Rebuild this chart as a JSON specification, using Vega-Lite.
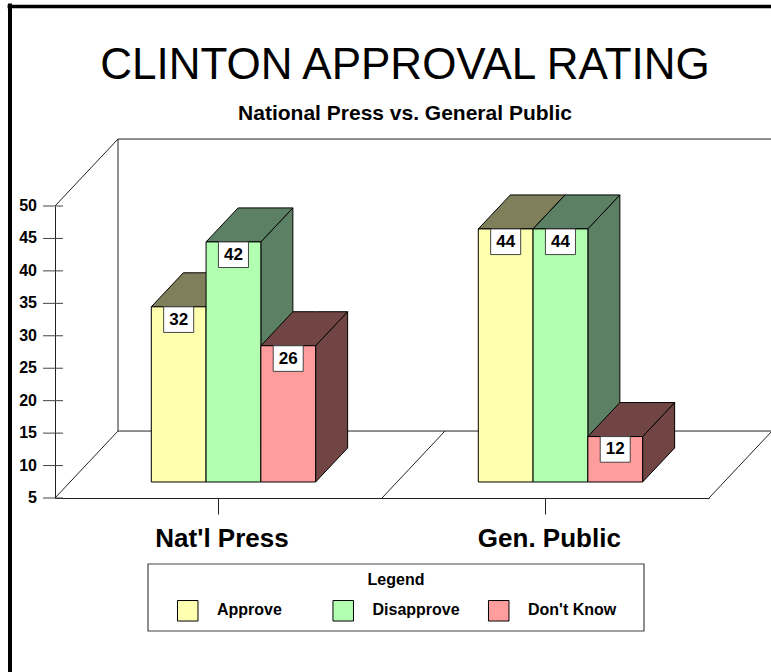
{
  "$schema": "https://vega.github.io/schema/vega-lite/v6.json",
  "width": 654,
  "height": 292,
  "autosize": {"type": "none"},
  "padding": {"left": 55, "top": 206, "right": 62, "bottom": 174},
  "background": "white",
  "view": {"stroke": null},
  "title": {
    "text": "CLINTON APPROVAL RATING",
    "subtitle": "National Press vs. General Public",
    "anchor": "middle",
    "frame": "group",
    "dx": 23,
    "offset": -122,
    "font": "Liberation Sans",
    "fontSize": 44,
    "fontWeight": "normal",
    "color": "black",
    "subtitleFont": "Liberation Sans",
    "subtitleFontSize": 21,
    "subtitleFontWeight": "bold",
    "subtitleColor": "black",
    "subtitlePadding": 15
  },
  "datasets": {
    "ratings": [
      {"group": "Nat'l Press", "response": "Approve", "value": 32},
      {"group": "Nat'l Press", "response": "Disapprove", "value": 42},
      {"group": "Nat'l Press", "response": "Don't Know", "value": 26},
      {"group": "Gen. Public", "response": "Approve", "value": 44},
      {"group": "Gen. Public", "response": "Disapprove", "value": 44},
      {"group": "Gen. Public", "response": "Don't Know", "value": 12}
    ],
    "responses": [
      {"response": "Approve"},
      {"response": "Disapprove"},
      {"response": "Don't Know"}
    ],
    "floorEdges": [{"edge": 0}, {"edge": 1}, {"edge": 2}],
    "scaleTicks": [
      {"tick": 5}, {"tick": 10}, {"tick": 15}, {"tick": 20}, {"tick": 25},
      {"tick": 30}, {"tick": 35}, {"tick": 40}, {"tick": 45}, {"tick": 50}
    ],
    "one": [{"id": 1}]
  },
  "layer": [
    {
      "description": "Value-axis ticks crossing the axis line; this layer also carries both axes",
      "data": {"name": "scaleTicks"},
      "mark": {"type": "rule", "color": "#444"},
      "encoding": {
        "x": {"datum": -0.0367, "type": "quantitative", "scale": {"domain": [0, 2]}, "axis": {
          "values": [0.497, 1.498],
          "labelExpr": "datum.value < 1 ? \"Nat'l Press\" : 'Gen. Public'",
          "title": null,
          "grid": false,
          "domainColor": "#222",
          "tickColor": "#222",
          "tickSize": 16,
          "labelFont": "Liberation Sans",
          "labelFontSize": 26,
          "labelFontWeight": "bold",
          "labelColor": "black",
          "labelPadding": 11,
          "labelOffset": 4,
          "labelFlush": false,
          "labelOverlap": false
        }},
        "x2": {"datum": 0.0245},
        "y": {"field": "tick", "type": "quantitative", "scale": {"domain": [5, 50], "nice": false, "zero": false}, "axis": {
          "title": null,
          "grid": false,
          "domainColor": "#222",
          "ticks": false,
          "labels": false
        }}
      }
    },
    {
      "description": "Value-axis numbers",
      "data": {"name": "scaleTicks"},
      "mark": {"type": "text", "font": "Liberation Sans", "fontSize": 16, "fontWeight": "bold", "color": "black", "align": "right", "baseline": "middle", "dx": -18},
      "encoding": {
        "x": {"datum": 0, "type": "quantitative"},
        "y": {"field": "tick", "type": "quantitative"},
        "text": {"field": "tick", "type": "quantitative"}
      }
    },
    {
      "description": "Outer page frame, top edge",
      "data": {"name": "one"},
      "mark": {"type": "rule", "color": "black", "strokeWidth": 3.5},
      "encoding": {
        "x": {"datum": -0.145, "type": "quantitative"},
        "x2": {"datum": 2.19},
        "y": {"datum": 80.74, "type": "quantitative"}
      }
    },
    {
      "description": "Outer page frame, left edge",
      "data": {"name": "one"},
      "mark": {"type": "rule", "color": "black", "strokeWidth": 4},
      "encoding": {
        "x": {"datum": -0.1376, "type": "quantitative"},
        "y": {"datum": 81.2, "type": "quantitative"},
        "y2": {"datum": -22}
      }
    },
    {
      "description": "Back wall top edge",
      "data": {"name": "one"},
      "mark": {"type": "rule", "color": "#222"},
      "encoding": {
        "x": {"datum": 0.1927, "type": "quantitative"},
        "x2": {"datum": 2.19},
        "y": {"datum": 60.32, "type": "quantitative"}
      }
    },
    {
      "description": "Back wall floor edge",
      "data": {"name": "one"},
      "mark": {"type": "rule", "color": "#222"},
      "encoding": {
        "x": {"datum": 0.1927, "type": "quantitative"},
        "x2": {"datum": 2.19},
        "y": {"datum": 15.32, "type": "quantitative"}
      }
    },
    {
      "description": "Back wall left edge",
      "data": {"name": "one"},
      "mark": {"type": "rule", "color": "#222"},
      "encoding": {
        "x": {"datum": 0.1927, "type": "quantitative"},
        "y": {"datum": 60.32, "type": "quantitative"},
        "y2": {"datum": 15.32}
      }
    },
    {
      "description": "Side wall upper diagonal",
      "data": {"name": "one"},
      "mark": {"type": "rule", "color": "#222"},
      "encoding": {
        "x": {"datum": 0, "type": "quantitative"},
        "x2": {"datum": 0.1927},
        "y": {"datum": 50, "type": "quantitative"},
        "y2": {"datum": 60.32}
      }
    },
    {
      "description": "Floor diagonals, one at each category boundary",
      "data": {"name": "floorEdges"},
      "transform": [{"calculate": "datum.edge + 0.1927", "as": "edgeBack"}],
      "mark": {"type": "rule", "color": "#222"},
      "encoding": {
        "x": {"field": "edge", "type": "quantitative"},
        "x2": {"field": "edgeBack"},
        "y": {"datum": 5, "type": "quantitative"},
        "y2": {"datum": 15.32}
      }
    },
    {
      "description": "Right-hand faces of the columns",
      "data": {"name": "ratings"},
      "transform": [
        {"calculate": "(datum.group === \"Nat'l Press\" ? 0 : 1) + 0.2945 + indexof(['Approve', 'Disapprove', \"Don't Know\"], datum.response) * 0.1675 + 0.1675", "as": "right"},
        {"calculate": "[0, 1]", "as": "t"},
        {"flatten": ["t"]},
        {"calculate": "datum.right + datum.t * 0.0979", "as": "px"},
        {"calculate": "datum.value + 2.466 + datum.t * 5.24", "as": "upper"},
        {"calculate": "7.466 + datum.t * 5.24", "as": "lower"},
        {"calculate": "datum.group + datum.response", "as": "bar"}
      ],
      "mark": {"type": "area", "orient": "vertical", "stroke": "black", "strokeWidth": 1, "interpolate": "linear"},
      "encoding": {
        "x": {"field": "px", "type": "quantitative"},
        "y": {"field": "upper", "type": "quantitative", "stack": null},
        "y2": {"field": "lower"},
        "detail": {"field": "bar"},
        "fill": {
          "field": "response",
          "type": "nominal",
          "legend": null,
          "scale": {"domain": ["Approve", "Disapprove", "Don't Know"], "range": ["#7f7f5c", "#5c8063", "#724545"]}
        }
      }
    },
    {
      "description": "Top faces of the columns",
      "data": {"name": "ratings"},
      "transform": [
        {"calculate": "(datum.group === \"Nat'l Press\" ? 0 : 1) + 0.2945 + indexof(['Approve', 'Disapprove', \"Don't Know\"], datum.response) * 0.1675", "as": "left"},
        {"calculate": "[0, 1, 2, 3]", "as": "t"},
        {"flatten": ["t"]},
        {"calculate": "datum.left + [0, 0.0979, 0.1675, 0.2654][datum.t]", "as": "px"},
        {"calculate": "datum.value + 2.466 + [0, 5.24, 5.24, 5.24][datum.t]", "as": "upper"},
        {"calculate": "datum.value + 2.466 + [0, 0, 0, 5.24][datum.t]", "as": "lower"},
        {"calculate": "datum.group + datum.response", "as": "bar"}
      ],
      "mark": {"type": "area", "orient": "vertical", "stroke": "black", "strokeWidth": 1, "interpolate": "linear"},
      "encoding": {
        "x": {"field": "px", "type": "quantitative"},
        "y": {"field": "upper", "type": "quantitative", "stack": null},
        "y2": {"field": "lower"},
        "detail": {"field": "bar"},
        "fill": {
          "field": "response",
          "type": "nominal",
          "legend": null,
          "scale": {"domain": ["Approve", "Disapprove", "Don't Know"], "range": ["#7f7f5c", "#5c8063", "#724545"]}
        }
      }
    },
    {
      "description": "Legend panel outline",
      "data": {"name": "one"},
      "mark": {"type": "rect", "fill": "white", "stroke": "#444", "strokeWidth": 1.2},
      "encoding": {
        "x": {"datum": 0.2844, "type": "quantitative"},
        "x2": {"datum": 1.8012},
        "y": {"datum": -5.17, "type": "quantitative"},
        "y2": {"datum": -15.5}
      }
    },
    {
      "description": "Legend heading",
      "data": {"name": "one"},
      "mark": {"type": "text", "font": "Liberation Sans", "fontSize": 16, "fontWeight": "bold", "color": "black", "align": "center", "baseline": "middle"},
      "encoding": {
        "x": {"datum": 1.0428, "type": "quantitative"},
        "y": {"datum": -7.64, "type": "quantitative"},
        "text": {"value": "Legend"}
      }
    },
    {
      "description": "Legend swatches",
      "data": {"name": "responses"},
      "transform": [
        {"calculate": "0.3746 + indexof(['Approve', 'Disapprove', \"Don't Know\"], datum.response) * 0.4755", "as": "swatchLeft"},
        {"calculate": "datum.swatchLeft + 0.0627", "as": "swatchRight"}
      ],
      "mark": {"type": "rect", "stroke": "black", "strokeWidth": 1},
      "encoding": {
        "x": {"field": "swatchLeft", "type": "quantitative"},
        "x2": {"field": "swatchRight"},
        "y": {"datum": -10.8, "type": "quantitative"},
        "y2": {"datum": -13.96},
        "color": {
          "field": "response",
          "type": "nominal",
          "legend": null,
          "scale": {"domain": ["Approve", "Disapprove", "Don't Know"], "range": ["#ffffb0", "#b2ffb2", "#ff9c9c"]}
        }
      }
    },
    {
      "description": "Legend labels",
      "data": {"name": "responses"},
      "transform": [
        {"calculate": "0.4954 + indexof(['Approve', 'Disapprove', \"Don't Know\"], datum.response) * 0.4755", "as": "labelLeft"}
      ],
      "mark": {"type": "text", "font": "Liberation Sans", "fontSize": 16, "fontWeight": "bold", "color": "black", "align": "left", "baseline": "middle"},
      "encoding": {
        "x": {"field": "labelLeft", "type": "quantitative"},
        "y": {"datum": -12.33, "type": "quantitative"},
        "text": {"field": "response", "type": "nominal"}
      }
    },
    {
      "description": "Front faces of the columns",
      "data": {"name": "ratings"},
      "transform": [
        {"calculate": "(datum.group === \"Nat'l Press\" ? 0 : 1) + 0.2945 + indexof(['Approve', 'Disapprove', \"Don't Know\"], datum.response) * 0.1675", "as": "left"},
        {"calculate": "datum.left + 0.1675", "as": "right"},
        {"calculate": "datum.value + 2.466", "as": "upper"},
        {"calculate": "7.466", "as": "lower"}
      ],
      "mark": {"type": "rect", "stroke": "black", "strokeWidth": 1},
      "encoding": {
        "x": {"field": "left", "type": "quantitative"},
        "x2": {"field": "right"},
        "y": {"field": "upper", "type": "quantitative"},
        "y2": {"field": "lower"},
        "color": {
          "field": "response",
          "type": "nominal",
          "legend": null,
          "scale": {"domain": ["Approve", "Disapprove", "Don't Know"], "range": ["#ffffb0", "#b2ffb2", "#ff9c9c"]}
        }
      }
    },
    {
      "description": "White boxes behind the value labels",
      "data": {"name": "ratings"},
      "transform": [
        {"calculate": "(datum.group === \"Nat'l Press\" ? 0 : 1) + 0.2945 + indexof(['Approve', 'Disapprove', \"Don't Know\"], datum.response) * 0.1675 + 0.0837", "as": "center"},
        {"calculate": "datum.center - 0.0459", "as": "boxLeft"},
        {"calculate": "datum.center + 0.0459", "as": "boxRight"},
        {"calculate": "datum.value + 2.466", "as": "upper"},
        {"calculate": "datum.upper - 3.95", "as": "boxBottom"}
      ],
      "mark": {"type": "rect", "fill": "white", "stroke": "#444", "strokeWidth": 1},
      "encoding": {
        "x": {"field": "boxLeft", "type": "quantitative"},
        "x2": {"field": "boxRight"},
        "y": {"field": "upper", "type": "quantitative"},
        "y2": {"field": "boxBottom"}
      }
    },
    {
      "description": "Value labels",
      "data": {"name": "ratings"},
      "transform": [
        {"calculate": "(datum.group === \"Nat'l Press\" ? 0 : 1) + 0.2945 + indexof(['Approve', 'Disapprove', \"Don't Know\"], datum.response) * 0.1675 + 0.0837", "as": "center"},
        {"calculate": "datum.value + 2.466 - 1.98", "as": "labelY"}
      ],
      "mark": {"type": "text", "font": "Liberation Sans", "fontSize": 17, "fontWeight": "bold", "color": "black", "align": "center", "baseline": "middle"},
      "encoding": {
        "x": {"field": "center", "type": "quantitative"},
        "y": {"field": "labelY", "type": "quantitative"},
        "text": {"field": "value", "type": "quantitative"}
      }
    }
  ]
}
